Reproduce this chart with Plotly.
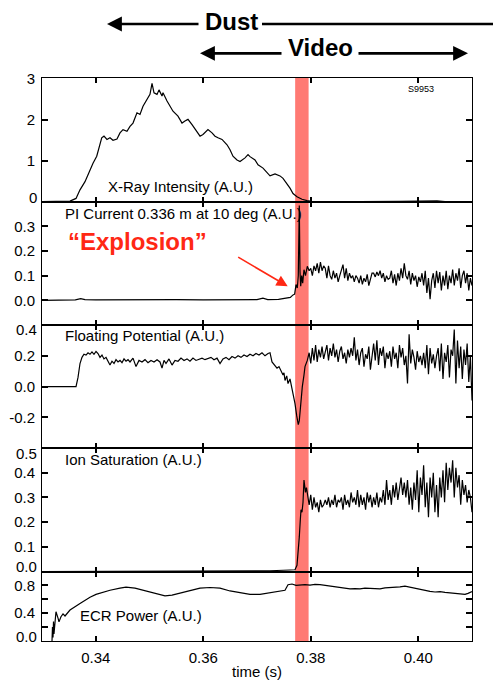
import plotly.graph_objects as go

# ---------------- data ----------------
# X-ray intensity
t_xray = [0.3300, 0.33428, 0.33521, 0.33633, 0.33707, 0.3380, 0.33893, 0.33949, 0.34018, 0.3406,
          0.34111, 0.34153, 0.34209, 0.34265, 0.34321, 0.34395, 0.34451, 0.34507, 0.34581, 0.34637,
          0.34693, 0.34767, 0.34823, 0.34879, 0.34953, 0.35009, 0.35047, 0.35084, 0.3514, 0.35177,
          0.35233, 0.35251, 0.35326, 0.35381, 0.35437, 0.3553, 0.35605, 0.3566, 0.35716, 0.35791,
          0.35884, 0.3594, 0.35995, 0.36088, 0.36163, 0.36219, 0.36274, 0.36349, 0.36442, 0.36498,
          0.36553, 0.36628, 0.36684, 0.36777, 0.36833, 0.3687, 0.36963, 0.37019, 0.37112, 0.37186,
          0.37242, 0.37335, 0.37428, 0.37484, 0.37558, 0.37614, 0.3767, 0.37744, 0.37837, 0.3793,
          0.38023, 0.38358, 0.38916, 0.3966, 0.40088, 0.40219, 0.40349, 0.40498, 0.4100]
xray = [0.0, 0.0, 0.015, 0.08, 0.29, 0.49, 0.78, 0.94, 1.11, 1.35,
        1.56, 1.60, 1.52, 1.56, 1.50, 1.53, 1.68, 1.76, 1.72, 1.84,
        1.92, 2.17, 2.13, 2.33, 2.50, 2.62, 2.89, 2.66, 2.62, 2.73,
        2.58, 2.66, 2.46, 2.33, 2.21, 2.09, 1.92, 1.97, 2.01, 1.88,
        1.72, 1.60, 1.64, 1.76, 1.68, 1.60, 1.56, 1.52, 1.39, 1.27,
        1.11, 1.02, 0.98, 1.07, 1.15, 1.10, 1.02, 0.90, 0.82, 0.70,
        0.63, 0.68, 0.63, 0.57, 0.45, 0.33, 0.20, 0.12, 0.06, 0.025,
        0.01, 0.005, 0.004, 0.006, 0.02, 0.015, 0.02, 0.005, 0.005]

# shared sample times of the noisy part after the event
t_noise = [0.3797, 0.3800, 0.3803, 0.3806, 0.3809, 0.3812, 0.3815, 0.3818, 0.3821, 0.3824,
           0.3827, 0.3830, 0.3833, 0.3836, 0.3839, 0.3842, 0.3845, 0.3848, 0.3851, 0.3854,
           0.3857, 0.3860, 0.3863, 0.3866, 0.3869, 0.3872, 0.3875, 0.3878, 0.3881, 0.3884,
           0.3887, 0.3890, 0.3893, 0.3896, 0.3899, 0.3902, 0.3905, 0.3908, 0.3911, 0.3914,
           0.3917, 0.3920, 0.3923, 0.3926, 0.3929, 0.3932, 0.3935, 0.3938, 0.3941, 0.3944,
           0.3947, 0.3950, 0.3953, 0.3956, 0.3959, 0.3962, 0.3965, 0.3968, 0.3971, 0.3974,
           0.3977, 0.3980, 0.3983, 0.3986, 0.3989, 0.3992, 0.3995, 0.3998, 0.4001, 0.4004,
           0.4007, 0.4010, 0.4013, 0.4016, 0.4019, 0.4022, 0.4025, 0.4028, 0.4031, 0.4034,
           0.4037, 0.4040, 0.4043, 0.4046, 0.4049, 0.4052, 0.4055, 0.4058, 0.4061, 0.4064,
           0.4067, 0.4070, 0.4073, 0.4076, 0.4079, 0.4082, 0.4085, 0.4088, 0.4091, 0.4094,
           0.4097, 0.4100]

# PI current
t_pi = [0.3300, 0.3330, 0.3355, 0.3362, 0.3372, 0.3380, 0.3400, 0.3450, 0.3500, 0.3550,
        0.3600, 0.3650, 0.3690, 0.3700, 0.3711, 0.3720, 0.3740, 0.3755, 0.3762, 0.3767,
        0.3770, 0.37726, 0.3775, 0.37768, 0.37787, 0.3780, 0.37813, 0.37832, 0.3785, 0.37874,
        0.37902, 0.37936]
pi_pre = [0.000, 0.000, 0.001, 0.002, 0.007, 0.003, 0.002, 0.003, 0.002, 0.003,
          0.002, 0.003, 0.002, 0.003, 0.009, 0.003, 0.004, 0.008, 0.012, 0.022,
          0.025, 0.064, 0.050, 0.100, 0.385, 0.117, 0.057, 0.100, 0.070, 0.124,
          0.100, 0.138]
pi_noise = [0.12, 0.13, 0.10, 0.14, 0.12, 0.15, 0.11, 0.155, 0.12, 0.14,
            0.13, 0.09, 0.14, 0.10, 0.085, 0.12, 0.09, 0.11, 0.075, 0.10,
            0.12, 0.145, 0.09, 0.13, 0.08, 0.11, 0.09, 0.10, 0.075, 0.10,
            0.09, 0.07, 0.10, 0.065, 0.09, 0.075, 0.105, 0.06, 0.085, 0.11,
            0.11, 0.095, 0.115, 0.10, 0.12, 0.09, 0.11, 0.075, 0.10, 0.085,
            0.09, 0.12, 0.07, 0.105, 0.06, 0.11, 0.08, 0.13, 0.09, 0.15,
            0.10, 0.085, 0.12, 0.065, 0.11, 0.08, 0.10, 0.055, 0.095, 0.075,
            0.11, 0.06, 0.12, 0.03, 0.09, 0.005, 0.08, 0.11, 0.05, 0.12,
            0.07, 0.115, 0.04, 0.10, 0.06, 0.12, 0.045, 0.10, 0.07, 0.125,
            0.06, 0.11, 0.08, 0.13, 0.05, 0.10, 0.12, 0.07, 0.11, 0.04,
            0.09, 0.06]

# Floating potential
t_fl = [0.3300, 0.33633, 0.3367, 0.33707, 0.33744, 0.33781, 0.33819, 0.33856, 0.33893, 0.3393,
        0.33967, 0.34005, 0.34042, 0.34079, 0.34116, 0.34153, 0.34191, 0.34228, 0.34265, 0.34302,
        0.3434, 0.34377, 0.34414, 0.34451, 0.34488, 0.34526, 0.34563, 0.3460, 0.34637, 0.34693,
        0.34749, 0.34805, 0.3486, 0.34916, 0.34972, 0.35028, 0.35084, 0.3514, 0.35195, 0.35233,
        0.3527, 0.35307, 0.35363, 0.35419, 0.35474, 0.3553, 0.35586, 0.35642, 0.35698, 0.35753,
        0.35809, 0.35865, 0.35921, 0.35977, 0.36033, 0.36088, 0.36144, 0.3620, 0.36256, 0.36312,
        0.36367, 0.36423, 0.36479, 0.36535, 0.36591, 0.36647, 0.36702, 0.36758, 0.36814, 0.3687,
        0.36926, 0.36981, 0.37037, 0.37093, 0.37149, 0.37205, 0.37242, 0.37279, 0.37335, 0.37372,
        0.37409, 0.37447, 0.37484, 0.37502, 0.37521, 0.37553, 0.37577, 0.37614, 0.37646, 0.37676,
        0.37707, 0.37739, 0.37768, 0.37787, 0.37813, 0.37843, 0.37874, 0.37893, 0.37936]
fl_pre = [0.0, 0.0, 0.06, 0.15, 0.19, 0.21, 0.205, 0.22, 0.21, 0.225,
          0.21, 0.228, 0.215, 0.19, 0.205, 0.18, 0.19, 0.16, 0.14, 0.165,
          0.15, 0.175, 0.16, 0.17, 0.155, 0.18, 0.165, 0.175, 0.16, 0.185,
          0.13, 0.17, 0.16, 0.175, 0.155, 0.17, 0.16, 0.175, 0.16, 0.12,
          0.17, 0.15, 0.18, 0.14, 0.17, 0.165, 0.185, 0.17, 0.18, 0.165,
          0.185, 0.17, 0.18, 0.185, 0.175, 0.18, 0.19, 0.175, 0.185, 0.15,
          0.18, 0.19, 0.175, 0.195, 0.185, 0.20, 0.19, 0.205, 0.195, 0.21,
          0.20, 0.215, 0.205, 0.22, 0.20, 0.215, 0.22, 0.16, 0.14, 0.12,
          0.13, 0.10, 0.075, 0.09, 0.04, 0.07, 0.02, 0.05, 0.0, -0.04,
          -0.11, -0.19, -0.247, -0.22, -0.11, 0.0, 0.075, 0.13, 0.17]
fl_noise = [0.22, 0.15, 0.25, 0.17, 0.27, 0.16, 0.24, 0.19, 0.26, 0.18,
            0.22, 0.27, 0.17, 0.25, 0.20, 0.28, 0.19, 0.24, 0.16, 0.23,
            0.26, 0.18, 0.22, 0.15, 0.24, 0.19, 0.25, 0.20, 0.32, 0.17,
            0.24, 0.14, 0.22, 0.25, 0.13, 0.21, 0.18, 0.26, 0.11, 0.20,
            0.28, 0.17, 0.30, 0.14, 0.25, 0.20, 0.26, 0.12, 0.22, 0.18,
            0.23, 0.13, 0.26, 0.18, 0.22, 0.12, 0.27, 0.19, 0.25, 0.14,
            0.20, 0.02, 0.34, 0.15, 0.24, 0.19, 0.11, 0.23, 0.16, 0.20,
            0.14, 0.22, 0.12, 0.27, 0.08, 0.25, 0.15, 0.21, 0.12, 0.20,
            0.25, 0.10, 0.28, 0.05, 0.22, 0.16, 0.27, 0.06, 0.24, 0.20,
            0.37, 0.02, 0.30, 0.12, 0.26, 0.05, 0.24, 0.14, 0.28, 0.03,
            0.20, -0.09]

# Ion saturation
t_ion = [0.3300, 0.34081, 0.3594, 0.37242, 0.37614, 0.37707, 0.37744, 0.37768, 0.37787, 0.37806,
         0.37819, 0.37837, 0.37856, 0.37874, 0.37902, 0.3792, 0.37949]
ion_pre = [0.0, 0.0, 0.001, 0.003, 0.006, 0.007, 0.025, 0.08, 0.14, 0.21,
           0.25, 0.24, 0.28, 0.37, 0.32, 0.34, 0.30]
ion_noise = [0.27, 0.31, 0.25, 0.30, 0.26, 0.28, 0.24, 0.29, 0.26, 0.27,
             0.29, 0.27, 0.30, 0.26, 0.29, 0.27, 0.31, 0.26, 0.29, 0.28,
             0.30, 0.25, 0.31, 0.27, 0.29, 0.26, 0.32, 0.28, 0.30, 0.27,
             0.33, 0.26, 0.31, 0.27, 0.30, 0.25, 0.32, 0.28, 0.31, 0.26,
             0.30, 0.27, 0.32, 0.26, 0.30, 0.28, 0.33, 0.27, 0.37, 0.29,
             0.33, 0.27, 0.35, 0.30, 0.36, 0.29, 0.34, 0.38, 0.31, 0.36,
             0.30, 0.37, 0.27, 0.34, 0.25, 0.36, 0.29, 0.41, 0.24, 0.38,
             0.31, 0.43, 0.26, 0.36, 0.22, 0.38, 0.30, 0.40, 0.24, 0.35,
             0.22, 0.38, 0.30, 0.41, 0.28, 0.44, 0.33, 0.42, 0.36, 0.45,
             0.30, 0.42, 0.34, 0.39, 0.27, 0.37, 0.31, 0.35, 0.28, 0.33,
             0.30, 0.24]

# ECR power
t_ecr = [0.33186, 0.33195, 0.33205, 0.33214, 0.33223, 0.33242, 0.3326, 0.33298, 0.33316, 0.33353,
         0.33391, 0.33428, 0.33521, 0.33707, 0.33893, 0.34005, 0.34079, 0.34265, 0.34451, 0.34563,
         0.3473, 0.34916, 0.35102, 0.35288, 0.35419, 0.35567, 0.35753, 0.3594, 0.36126, 0.36312,
         0.36498, 0.36684, 0.3687, 0.37056, 0.37242, 0.37428, 0.37521, 0.37577, 0.37651, 0.37726,
         0.3780, 0.37893, 0.37986, 0.38079, 0.38172, 0.38265, 0.38358, 0.38451, 0.38544, 0.38637,
         0.3873, 0.38823, 0.38916, 0.39009, 0.39102, 0.39195, 0.39288, 0.39381, 0.39474, 0.39567,
         0.3966, 0.39753, 0.39847, 0.3994, 0.40033, 0.40126, 0.40219, 0.40312, 0.40405, 0.40498,
         0.40591, 0.40684, 0.40777, 0.4087, 0.40926, 0.4100]
ecr = [0.0, 0.20, 0.05, 0.28, 0.10, 0.30, 0.42, 0.33, 0.275, 0.35,
       0.39, 0.36, 0.445, 0.54, 0.63, 0.67, 0.69, 0.73, 0.76, 0.775,
       0.76, 0.72, 0.69, 0.65, 0.66, 0.69, 0.73, 0.76, 0.77, 0.76,
       0.72, 0.69, 0.67, 0.67, 0.69, 0.71, 0.73, 0.81, 0.82, 0.80,
       0.805, 0.81, 0.805, 0.815, 0.81, 0.80, 0.79, 0.78, 0.765, 0.755,
       0.75, 0.755, 0.75, 0.76, 0.755, 0.76, 0.75, 0.765, 0.77, 0.765,
       0.78, 0.79, 0.775, 0.76, 0.74, 0.72, 0.715, 0.705, 0.71, 0.70,
       0.695, 0.69, 0.68, 0.67, 0.685, 0.71]

panel_labels = ["X-Ray Intensity (A.U.)", "PI Current 0.336 m at 10 deg (A.U.)",
                "Floating Potential (A.U.)", "Ion Saturation (A.U.)", "ECR Power (A.U.)"]
x_ticks = [0.34, 0.36, 0.38, 0.40]
x_ticktext = ["0.34", "0.36", "0.38", "0.40"]
band = [0.3771, 0.3796]

# y ticks per panel; labels at the panel edges are drawn nudged inside the panel
y_tickvals = [[0, 1, 2, 3], [0, 0.1, 0.2, 0.3], [-0.2, 0, 0.2, 0.4],
              [0, 0.1, 0.2, 0.3, 0.4, 0.5], [0, 0.2, 0.4, 0.6, 0.8]]
y_ticktext = [["", "1", "2", "3"], ["0.0", "0.1", "0.2", "0.3"], ["-0.2", "0.0", "0.2", ""],
              ["", "0.1", "0.2", "0.3", "0.4", ""], ["", "", "0.4", "", "0.8"]]
edge_labels = ["0", "0.4", "0.5", "0.0", "0.0"]
edge_label_py = [197, 329.5, 453, 566, 636.5]

# ---------------- figure ----------------
FONT = "Liberation Sans, Arial, Helvetica, sans-serif"
L, R, T, B = 42, 21, 78, 43
W, H = 493, 684
PW, PH = W - L - R, H - T - B

def px_x(p):
    return (p - L) / PW

def px_y(p):
    return (H - B - p) / PH

bounds = [78, 201.7, 325, 447.5, 571.5, 641]
domains = [[px_y(bounds[i + 1]), px_y(bounds[i])] for i in range(5)]
domains[0][1] = 1.0
domains[4][0] = 0.0

series = [
    (t_xray, xray),
    (t_pi + t_noise, pi_pre + pi_noise),
    (t_fl + t_noise, fl_pre + fl_noise),
    (t_ion + t_noise, ion_pre + ion_noise),
    (t_ecr, ecr),
]
yranges = [[0, 3.02], [-0.1, 0.4], [-0.395, 0.4], [0, 0.502], [0, 1.0]]

fig = go.Figure()
layout = dict(
    width=W, height=H, margin=dict(l=L, r=R, t=T, b=B, autoexpand=False),
    paper_bgcolor="white", plot_bgcolor="rgba(0,0,0,0)",
    showlegend=False, font=dict(family=FONT, size=15, color="black"),
)
for i in range(5):
    n = "" if i == 0 else str(i + 1)
    tx, ty = series[i]
    fig.add_trace(go.Scatter(x=tx, y=ty, mode="lines", xaxis="x" + n, yaxis="y" + n,
                             line=dict(color="black", width=1.2), hoverinfo="skip"))
    layout["xaxis" + n] = dict(
        domain=[0, 1], anchor="y" + n, range=[0.33, 0.41], showgrid=False, zeroline=False,
        showline=True, linecolor="black", linewidth=1, mirror="ticks", automargin=False,
        ticks="inside", ticklen=5, tickwidth=1.5, tickcolor="black",
        tickvals=x_ticks, ticktext=x_ticktext, showticklabels=(i == 4),
        tickfont=dict(family=FONT, size=15), ticklabelstandoff=3,
    )
    if i > 0:
        layout["xaxis" + n]["matches"] = "x"
    layout["yaxis" + n] = dict(
        domain=domains[i], anchor="x" + n, range=yranges[i], showgrid=False, zeroline=False,
        showline=True, linecolor="black", linewidth=1, mirror="ticks", automargin=False,
        ticks="inside", ticklen=6, tickwidth=1.5, tickcolor="black",
        tickvals=y_tickvals[i], ticktext=y_ticktext[i], tickfont=dict(family=FONT, size=15),
        ticklabelstandoff=3,
    )
layout["xaxis5"]["title"] = dict(text="time (s)", font=dict(family=FONT, size=15), standoff=1)

shapes = [
    dict(type="rect", xref="x", yref="paper", x0=band[0], x1=band[1], y0=0, y1=1,
         fillcolor="rgb(255,122,115)", line=dict(width=0), layer="below"),
    dict(type="line", xref="paper", yref="paper", x0=px_x(262), x1=px_x(493),
         y0=px_y(24), y1=px_y(24), line=dict(color="black", width=2.7)),
]

label_pos = [(106, 186.7), (63, 213.3), (63, 335.7), (63, 459), (78, 615.7)]
annotations = []
for (lx, ly), txt in zip(label_pos, panel_labels):
    annotations.append(dict(text=txt, xref="paper", yref="paper", x=px_x(lx), y=px_y(ly),
                            xanchor="left", yanchor="middle", showarrow=False,
                            font=dict(family=FONT, size=15, color="black")))
for txt, py in zip(edge_labels, edge_label_py):
    annotations.append(dict(text=txt, xref="paper", yref="paper", x=px_x(39), y=px_y(py),
                            xanchor="right", yanchor="middle", showarrow=False,
                            font=dict(family=FONT, size=15, color="black")))
annotations += [
    dict(text="S9953", xref="paper", yref="paper", x=px_x(420.5), y=px_y(89),
         xanchor="center", yanchor="middle", showarrow=False,
         font=dict(family=FONT, size=9, color="black")),
    dict(text="<b>\u201cExplosion\u201d</b>", xref="paper", yref="paper", x=px_x(66), y=px_y(242),
         xanchor="left", yanchor="middle", showarrow=False,
         font=dict(family=FONT, size=24, color="rgb(255,40,20)")),
    dict(text="", xref="x2", yref="y2", x=0.37571, y=0.057, ax=-51, ay=-30,
         showarrow=True, arrowhead=2, arrowsize=1.4, arrowwidth=1.6, arrowcolor="rgb(255,40,20)"),
    dict(text="<b>Dust</b>", xref="paper", yref="paper", x=px_x(231.5), y=px_y(21),
         xanchor="center", yanchor="middle", showarrow=False,
         font=dict(family=FONT, size=24, color="black")),
    dict(text="<b>Video</b>", xref="paper", yref="paper", x=px_x(320), y=px_y(48),
         xanchor="center", yanchor="middle", showarrow=False,
         font=dict(family=FONT, size=24, color="black")),
    dict(text="", xref="paper", yref="paper", x=px_x(107), y=px_y(24), ax=93, ay=0,
         showarrow=True, arrowhead=2, arrowsize=1.1, arrowwidth=2.7, arrowcolor="black"),
    dict(text="", xref="paper", yref="paper", x=px_x(200), y=px_y(53.3), ax=83, ay=0,
         showarrow=True, arrowhead=2, arrowsize=1.1, arrowwidth=2.7, arrowcolor="black"),
    dict(text="", xref="paper", yref="paper", x=px_x(468), y=px_y(53.3), ax=-111, ay=0,
         showarrow=True, arrowhead=2, arrowsize=1.1, arrowwidth=2.7, arrowcolor="black"),
]
layout["shapes"] = shapes
layout["annotations"] = annotations
fig.update_layout(**layout)
fig.write_html("out.html")
